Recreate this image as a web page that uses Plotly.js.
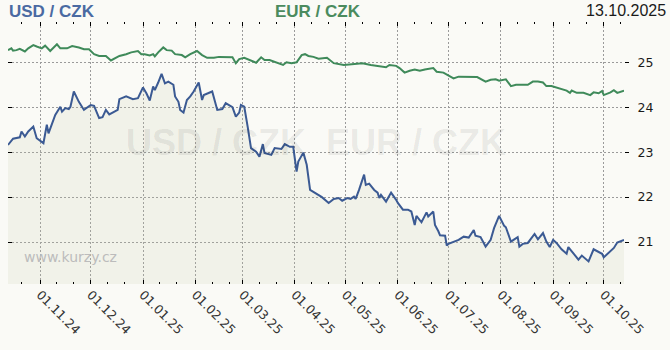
<!DOCTYPE html>
<html>
<head>
<meta charset="utf-8">
<script src="https://cdn.plot.ly/plotly-3.0.1.min.js"></script>
<style>
html,body{margin:0;padding:0;background:#fafaf6;}
#chart{width:670px;height:350px;}
</style>
</head>
<body>
<div id="chart"></div>
<script>
// USD / CZK
const usdDates = [
"2024-10-13","2024-10-15","2024-10-16","2024-10-20","2024-10-21","2024-10-23","2024-10-25","2024-10-28","2024-10-30",
"2024-11-03","2024-11-05","2024-11-06","2024-11-08","2024-11-10","2024-11-13","2024-11-14","2024-11-16","2024-11-18","2024-11-19","2024-11-21","2024-11-24","2024-11-27",
"2024-12-01","2024-12-03","2024-12-06","2024-12-08","2024-12-10","2024-12-12","2024-12-17","2024-12-18","2024-12-22","2024-12-26","2024-12-29",
"2025-01-01","2025-01-03","2025-01-05","2025-01-07","2025-01-08","2025-01-10","2025-01-12","2025-01-14","2025-01-16","2025-01-19","2025-01-20","2025-01-22","2025-01-23","2025-01-25","2025-01-27","2025-01-29","2025-01-31",
"2025-02-03","2025-02-05","2025-02-06","2025-02-11","2025-02-14","2025-02-17","2025-02-19","2025-02-23","2025-02-25","2025-02-27","2025-02-28",
"2025-03-02","2025-03-04","2025-03-06","2025-03-09","2025-03-11","2025-03-13","2025-03-14","2025-03-18","2025-03-20","2025-03-24","2025-03-26","2025-03-29","2025-03-31",
"2025-04-02","2025-04-03","2025-04-06","2025-04-08","2025-04-10","2025-04-13","2025-04-17","2025-04-21","2025-04-24","2025-04-27","2025-04-29",
"2025-05-02","2025-05-04","2025-05-06","2025-05-07","2025-05-09","2025-05-12","2025-05-13","2025-05-15","2025-05-18","2025-05-20","2025-05-21","2025-05-22","2025-05-25","2025-05-28","2025-05-31",
"2025-06-01","2025-06-04","2025-06-07","2025-06-09","2025-06-11","2025-06-12","2025-06-15","2025-06-18","2025-06-19","2025-06-22","2025-06-23","2025-06-25","2025-06-26","2025-06-29","2025-06-30",
"2025-07-01","2025-07-04","2025-07-07","2025-07-10","2025-07-13","2025-07-16","2025-07-17","2025-07-20","2025-07-23","2025-07-26","2025-07-28","2025-07-31",
"2025-08-03","2025-08-04","2025-08-05","2025-08-07","2025-08-09","2025-08-11","2025-08-12","2025-08-14","2025-08-17","2025-08-21","2025-08-23","2025-08-26","2025-08-28","2025-08-30",
"2025-09-01","2025-09-03","2025-09-06","2025-09-09","2025-09-10","2025-09-13","2025-09-16","2025-09-18","2025-09-22","2025-09-25","2025-09-28","2025-09-30",
"2025-10-01","2025-10-04","2025-10-07","2025-10-09","2025-10-13"
];
const usdValues = [
23.16,23.27,23.30,23.33,23.46,23.35,23.46,23.57,23.31,
23.20,23.61,23.42,23.61,23.83,24.01,23.90,23.98,23.96,24.01,24.35,24.12,23.94,
24.05,24.03,23.76,23.78,23.94,23.84,23.94,24.18,24.24,24.18,24.20,
24.44,24.31,24.15,24.46,24.38,24.55,24.74,24.53,24.57,24.50,24.24,24.12,23.94,23.88,24.16,24.24,24.35,
24.55,24.16,24.27,24.35,23.94,23.96,24.09,24.00,23.79,23.88,24.05,
24.01,23.57,23.09,23.01,22.90,23.18,22.98,22.94,23.09,23.07,23.18,23.12,23.12,
22.57,22.79,22.99,22.72,22.16,22.09,22.00,21.87,21.96,21.98,21.92,
21.98,21.96,22.01,21.96,22.16,22.50,22.27,22.30,22.16,22.10,21.98,22.05,21.90,22.10,21.94,
21.87,21.72,21.72,21.68,21.38,21.58,21.44,21.66,21.57,21.68,21.38,21.24,21.15,21.14,20.92,
20.96,21.01,21.05,21.12,21.10,21.27,21.14,21.11,20.90,21.05,21.31,21.58,
21.36,21.33,21.21,21.01,21.06,21.11,20.90,20.96,20.98,21.18,21.06,21.20,21.01,20.89,
21.05,20.98,20.84,20.74,20.89,20.76,20.61,20.70,20.57,20.84,20.77,20.74,
20.66,20.76,20.87,20.99,21.05
];

// EUR / CZK
const eurDates = [
"2024-10-13","2024-10-15","2024-10-16","2024-10-18","2024-10-20","2024-10-23","2024-10-25","2024-10-28","2024-10-30",
"2024-11-02","2024-11-04","2024-11-07","2024-11-11","2024-11-13","2024-11-17","2024-11-20","2024-11-24","2024-11-27","2024-11-30",
"2024-12-03","2024-12-06","2024-12-10","2024-12-13","2024-12-16","2024-12-18","2024-12-22","2024-12-25","2024-12-29","2024-12-31",
"2025-01-02","2025-01-05","2025-01-07","2025-01-08","2025-01-10","2025-01-13","2025-01-15","2025-01-18","2025-01-20","2025-01-24","2025-01-26","2025-01-29",
"2025-02-02","2025-02-05","2025-02-08","2025-02-12","2025-02-15","2025-02-18","2025-02-23","2025-02-25","2025-02-27",
"2025-03-02","2025-03-04","2025-03-09","2025-03-12","2025-03-14","2025-03-17","2025-03-20","2025-03-25","2025-03-27","2025-03-30",
"2025-04-02","2025-04-05","2025-04-07","2025-04-09","2025-04-12","2025-04-15","2025-04-20","2025-04-24","2025-04-30",
"2025-05-06","2025-05-11","2025-05-16","2025-05-21","2025-05-25","2025-05-27","2025-05-31",
"2025-06-02","2025-06-05","2025-06-08","2025-06-11","2025-06-14","2025-06-17","2025-06-22","2025-06-24","2025-06-28",
"2025-07-01","2025-07-04","2025-07-07","2025-07-11","2025-07-14","2025-07-18","2025-07-23","2025-07-26","2025-07-29","2025-07-31",
"2025-08-04","2025-08-07","2025-08-10","2025-08-14","2025-08-17","2025-08-20","2025-08-23","2025-08-26","2025-08-28","2025-08-31",
"2025-09-03","2025-09-06","2025-09-09","2025-09-11","2025-09-12","2025-09-15","2025-09-19","2025-09-23","2025-09-25","2025-09-28","2025-09-30",
"2025-10-01","2025-10-05","2025-10-07","2025-10-09","2025-10-13"
];
const eurValues = [
25.27,25.31,25.26,25.27,25.30,25.24,25.31,25.38,25.35,
25.31,25.37,25.25,25.40,25.31,25.31,25.36,25.33,25.29,25.29,
25.18,25.14,25.14,25.04,25.09,25.14,25.18,25.22,25.25,25.18,
25.18,25.15,25.18,25.13,25.22,25.33,25.27,25.26,25.18,25.16,25.11,25.18,
25.25,25.16,25.10,25.10,25.12,25.11,25.11,24.98,25.07,
25.10,25.07,24.99,25.11,25.05,25.05,25.01,24.94,25.00,24.98,
25.00,25.16,25.18,25.14,25.12,25.08,25.10,24.98,24.94,
24.96,24.98,24.94,24.92,24.89,24.94,24.92,
24.87,24.77,24.81,24.84,24.81,24.84,24.87,24.79,24.77,
24.70,24.64,24.68,24.68,24.67,24.67,24.57,24.61,24.62,24.59,
24.62,24.47,24.50,24.50,24.50,24.57,24.57,24.55,24.47,24.47,
24.44,24.40,24.37,24.32,24.37,24.32,24.32,24.27,24.33,24.31,24.36,
24.27,24.33,24.38,24.32,24.37
];

const titleUsd = "USD / CZK";
const titleEur = "EUR / CZK";
const dateLabel = "13.10.2025";
const watermark = "USD / CZK  EUR / CZK";
const siteLabel = "www.kurzy.cz";

const yRange = [20.067, 25.896];
const xRange = [usdDates[0], usdDates[usdDates.length - 1]];

// minor ticks on the 11th and 21st of each month
const minorVals = [];
for (let y = 2024; y <= 2025; y++) {
  for (let m = 1; m <= 12; m++) {
    [11, 21].forEach(d => {
      const s = y + "-" + String(m).padStart(2, "0") + "-" + String(d).padStart(2, "0");
      if (s >= xRange[0] && s <= xRange[1]) minorVals.push(s);
    });
  }
}

const usdColor = "#3b5a93";
const eurColor = "#3f8a5a";
const bg = "#fafaf6";

const traces = [
  {
    x: usdDates, y: usdValues, type: "scatter", mode: "lines",
    line: {color: usdColor, width: 2},
    fill: "tozeroy", fillcolor: "rgba(197,203,173,0.17)",
    hoverinfo: "skip", yaxis: "y"
  },
  {
    x: eurDates, y: eurValues, type: "scatter", mode: "lines",
    line: {color: eurColor, width: 2},
    hoverinfo: "skip", yaxis: "y2"
  }
];

const tickFont = {family: "DejaVu Sans", size: 12.5, color: "#1a1a1a"};

const layout = {
  width: 670, height: 350,
  margin: {l: 8, r: 46, t: 22, b: 66, pad: 0},
  paper_bgcolor: bg, plot_bgcolor: bg,
  showlegend: false,
  xaxis: {
    type: "date", range: xRange,
    tickmode: "linear", tick0: "2024-11-01", dtick: "M1", tickformat: "%d.%m.%y",
    tickangle: 45, tickfont: {family: "DejaVu Sans", size: 12.5, color: "#333"},
    ticks: "inside", ticklen: 4, tickcolor: "#000", tickwidth: 1,
    mirror: "ticks", showline: false, zeroline: false,
    showgrid: true, gridcolor: "#9a9a9a", gridwidth: 1, griddash: "2px,2px",
    minor: {tickmode: "array", tickvals: minorVals, ticks: "inside", ticklen: 2, tickcolor: "#000", tickwidth: 1, showgrid: false},
    fixedrange: true
  },
  yaxis: {
    range: yRange, side: "right", tickmode: "linear", tick0: 0, dtick: 1,
    ticks: "outside", ticklen: 4, tickcolor: "#000", tickwidth: 1,
    ticklabelstandoff: 6, tickfont: tickFont,
    showgrid: true, gridcolor: "#9a9a9a", gridwidth: 1, griddash: "2px,2px",
    zeroline: false, showline: false, fixedrange: true
  },
  yaxis2: {
    range: yRange, overlaying: "y", side: "left", tickmode: "linear", tick0: 0, dtick: 1,
    ticks: "inside", ticklen: 4, tickcolor: "#000", tickwidth: 1,
    showticklabels: false, showgrid: false, zeroline: false, showline: false, fixedrange: true
  },
  annotations: [
    {text: watermark, xref: "paper", yref: "paper", x: 0.5004, y: 0.5387, xanchor: "center", yanchor: "middle",
     showarrow: false, font: {family: "Liberation Sans", size: 36, weight: "bold", color: "rgba(0,0,0,0.08)"}},
    {text: siteLabel, xref: "paper", yref: "paper", x: 0.022, y: 0.104, xanchor: "left", yanchor: "middle",
     showarrow: false, font: {family: "DejaVu Sans", size: 14, color: "#bcbcbc"}},
    {text: titleUsd, xref: "paper", yref: "paper", x: -0.002, y: 1.083, xanchor: "left", yanchor: "top",
     showarrow: false, font: {family: "Liberation Sans", size: 17, weight: "bold", color: "#4a6aa2"}},
    {text: titleEur, xref: "paper", yref: "paper", x: 0.5037, y: 1.083, xanchor: "center", yanchor: "top",
     showarrow: false, font: {family: "Liberation Sans", size: 17, weight: "bold", color: "#4b8b5e"}},
    {text: dateLabel, xref: "paper", yref: "paper", x: 1.072, y: 1.083, xanchor: "right", yanchor: "top",
     showarrow: false, font: {family: "Liberation Sans", size: 16, color: "#1a1a1a"}}
  ]
};

Plotly.newPlot("chart", traces, layout, {displayModeBar: false, staticPlot: true});
</script>
</body>
</html>
